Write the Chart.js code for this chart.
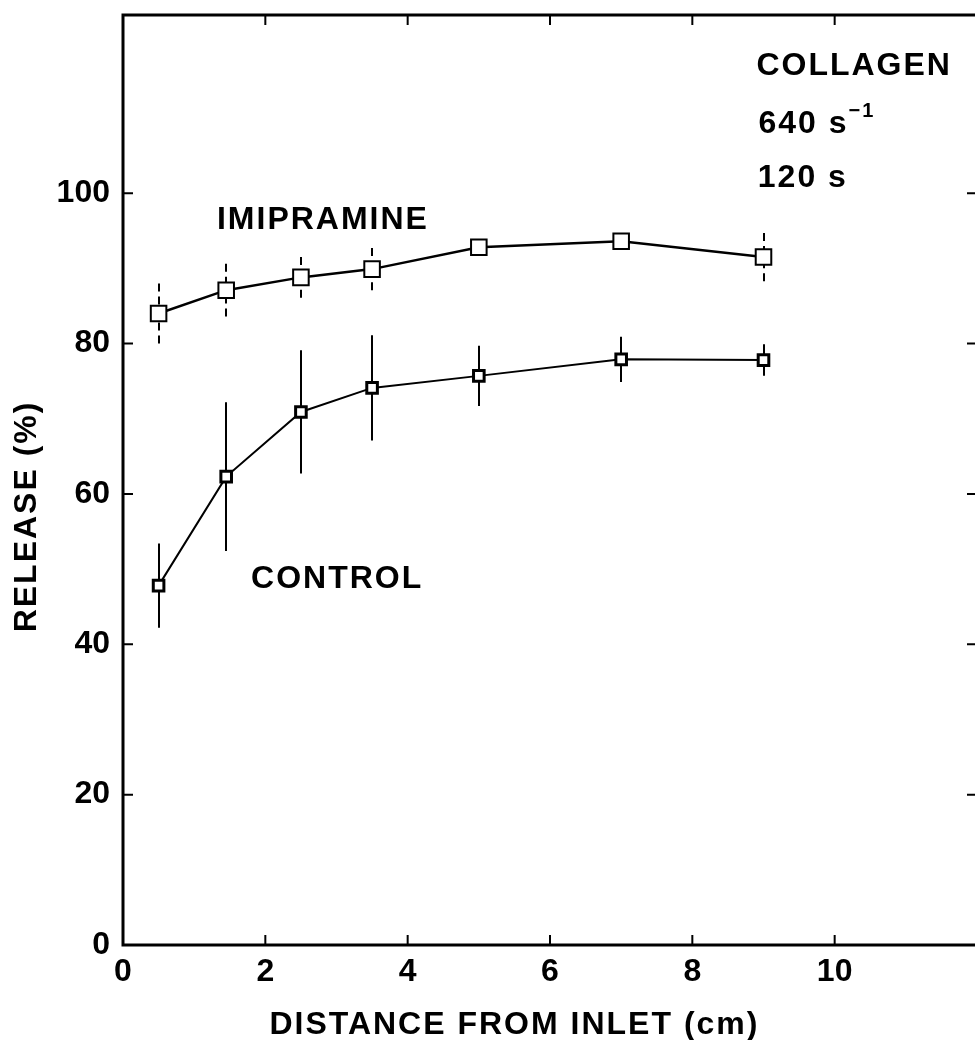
<!DOCTYPE html>
<html>
<head>
<meta charset="utf-8">
<title>Release vs distance from inlet</title>
<script src="https://cdn.jsdelivr.net/npm/chart.js@4"></script>
<style>
    html, body { margin: 0; padding: 0; background: #fff; overflow: hidden; }
    canvas { display: block; }
</style>
</head>
<body>
<canvas id="release-chart" width="990" height="1040"></canvas>
<script>
// distance from inlet (cm) and release (%), mean and SEM
const distance = [0.5, 1.45, 2.5, 3.5, 5, 7, 9];
const imipramine = [84.0, 87.1, 88.8, 89.9, 92.8, 93.6, 91.5];
const imipramineSem = [4.0, 3.5, 2.7, 2.8, 0.8, 0.8, 3.2];
const control = [47.8, 62.3, 70.9, 74.1, 75.7, 77.9, 77.8];
const controlSem = [5.6, 9.9, 8.2, 7.0, 4.0, 3.0, 2.1];
const xTicks = [0, 2, 4, 6, 8, 10];
const yTicks = [0, 20, 40, 60, 80, 100];

const FONT = '"Liberation Sans", Arial, sans-serif';
Chart.defaults.font.family = FONT;
Chart.defaults.font.weight = 'bold';
Chart.defaults.font.size = 32;
Chart.defaults.color = '#000';

const toPoints = (xs, ys) => xs.map((x, i) => ({ x: x, y: ys[i] }));

// vertical error bars, drawn under the markers; each half starts at its outer end
const errorBars = {
    id: 'errorBars',
    beforeDatasetsDraw(chart) {
        const { ctx, scales: { x, y } } = chart;
        ctx.save();
        ctx.strokeStyle = '#000';
        ctx.lineWidth = 2;
        chart.data.datasets.forEach(ds => {
            ctx.setLineDash(ds.semDash || []);
            ds.data.forEach((p, j) => {
                let px = Math.round(x.getPixelForValue(p.x));
                let mid = y.getPixelForValue(p.y);
                ctx.beginPath();
                ctx.moveTo(px, y.getPixelForValue(p.y + ds.sem[j]));
                ctx.lineTo(px, mid);
                ctx.moveTo(px, y.getPixelForValue(p.y - ds.sem[j]));
                ctx.lineTo(px, mid);
                ctx.stroke();
            });
        });
        ctx.restore();
    }
};

// closed frame with inward tick marks on all four sides
const frame = {
    id: 'frame',
    afterDraw(chart) {
        const { ctx, chartArea: a, scales: { x, y } } = chart;
        const len = 10;
        ctx.save();
        ctx.strokeStyle = '#000';
        ctx.lineWidth = 3;
        ctx.strokeRect(a.left, a.top, a.right - a.left, a.bottom - a.top);
        ctx.lineWidth = 2;
        ctx.beginPath();
        x.ticks.forEach(t => {
            if (t.value === 0) return;
            let px = x.getPixelForValue(t.value);
            ctx.moveTo(px, a.bottom); ctx.lineTo(px, a.bottom - len);
            ctx.moveTo(px, a.top); ctx.lineTo(px, a.top + len);
        });
        y.ticks.forEach(t => {
            if (t.value === 0) return;
            let py = y.getPixelForValue(t.value);
            ctx.moveTo(a.left, py); ctx.lineTo(a.left + len, py);
            ctx.moveTo(a.right, py); ctx.lineTo(a.right - len, py);
        });
        ctx.stroke();
        ctx.restore();
    }
};

// curve names, run conditions and axis titles
const notes = {
    id: 'notes',
    afterDraw(chart, args, opts) {
        const { ctx, scales: { x, y } } = chart;
        ctx.save();
        ctx.fillStyle = '#000';
        ctx.textAlign = 'left';
        ctx.textBaseline = 'alphabetic';
        ctx.letterSpacing = '2px';
        opts.items.forEach(n => {
            let px = x.getPixelForValue(n.x);
            let py = y.getPixelForValue(n.y);
            ctx.font = 'bold 32px ' + FONT;
            ctx.fillText(n.text, px, py);
            if (n.sup) {
                let w = ctx.measureText(n.text).width;
                ctx.font = 'bold 20px ' + FONT;
                ctx.fillText(n.sup, px + w, py - 16);
            }
        });

        ctx.font = 'bold 32px ' + FONT;
        ctx.textAlign = 'center';
        ctx.textBaseline = 'middle';
        ctx.fillText(opts.xTitle, x.getPixelForValue(5.5), 1025);
        ctx.translate(27, y.getPixelForValue(57));
        ctx.rotate(-Math.PI / 2);
        ctx.fillText(opts.yTitle, 0, 0);
        ctx.restore();
    }
};

new Chart(document.getElementById('release-chart'), {
    type: 'scatter',
    data: {
        datasets: [
            {
                label: 'IMIPRAMINE',
                data: toPoints(distance, imipramine),
                sem: imipramineSem,
                semDash: [8, 5],
                showLine: true,
                borderColor: '#000',
                borderWidth: 2.5,
                pointStyle: 'rect',
                pointRadius: 11,
                pointBorderWidth: 2,
                pointBackgroundColor: '#fff',
                pointBorderColor: '#000'
            },
            {
                label: 'CONTROL',
                data: toPoints(distance, control),
                sem: controlSem,
                showLine: true,
                borderColor: '#000',
                borderWidth: 2,
                pointStyle: 'rect',
                pointRadius: 7.5,
                pointBorderWidth: 3,
                pointBackgroundColor: '#fff',
                pointBorderColor: '#000'
            }
        ]
    },
    options: {
        responsive: false,
        animation: false,
        devicePixelRatio: 1,
        layout: { padding: { top: 15, right: 5, left: 0, bottom: 0 } },
        plugins: {
            legend: { display: false },
            tooltip: { enabled: false },
            notes: {
                xTitle: 'DISTANCE FROM INLET (cm)',
                yTitle: 'RELEASE (%)',
                items: [
                    { text: 'IMIPRAMINE', x: 1.32, y: 95.3 },
                    { text: 'CONTROL', x: 1.8, y: 47.5 },
                    { text: 'COLLAGEN', x: 8.9, y: 115.7 },
                    { text: '640 s', sup: '\u22121', x: 8.93, y: 108 },
                    { text: '120 s', x: 8.92, y: 100.8 }
                ]
            }
        },
        scales: {
            x: {
                type: 'linear',
                min: 0,
                max: 12,
                afterBuildTicks: s => { s.ticks = xTicks.map(v => ({ value: v })); },
                afterFit: s => {
                    s.height = 95;
                    s.paddingLeft = s.paddingRight = 0;
                },
                grid: { display: false, drawTicks: false },
                border: { display: false },
                ticks: { padding: 8, maxRotation: 0, autoSkip: false }
            },
            y: {
                type: 'linear',
                min: 0,
                max: 123.7,
                afterBuildTicks: s => { s.ticks = yTicks.map(v => ({ value: v })); },
                afterFit: s => {
                    s.width = 123;
                    s.paddingTop = s.paddingBottom = 0;
                },
                grid: { display: false, drawTicks: false },
                border: { display: false },
                ticks: { padding: 13, autoSkip: false }
            }
        }
    },
    plugins: [errorBars, frame, notes]
});
</script>
</body>
</html>
